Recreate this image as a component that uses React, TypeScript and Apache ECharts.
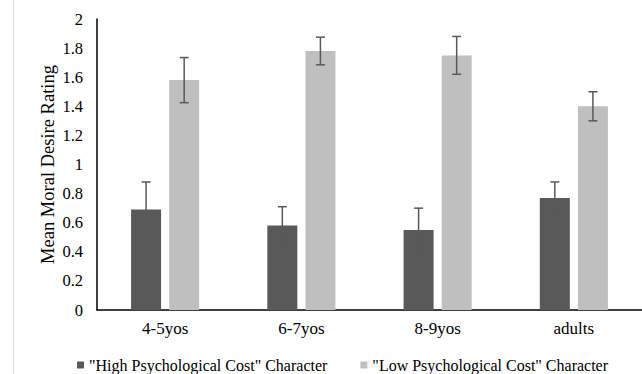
import React, { useEffect, useRef } from "react";
import * as echarts from "echarts";

const categories = ["4-5yos", "6-7yos", "8-9yos", "adults"];
const seriesNames = ['"High Psychological Cost" Character', '"Low Psychological Cost" Character'];
const highValues = [0.69, 0.58, 0.55, 0.77];
const highErrors = [0.19, 0.13, 0.15, 0.11];
const lowValues = [1.58, 1.78, 1.75, 1.40];
const lowErrors = [0.155, 0.095, 0.13, 0.10];
const yTicks = { min: 0, max: 2, interval: 0.2 };

const FONT = "Liberation Serif";
const BAR_W = 30;
const GAP_PCT = 27;

export default function App() {
  const ref = useRef<HTMLDivElement>(null);
  useEffect(() => {
    const chart = echarts.init(ref.current!, null, { renderer: "svg" });
    const offset = (BAR_W + (BAR_W * GAP_PCT) / 100) / 2;
    const errSeries = (vals: number[], errs: number[], dir: number, name: string) => ({
      type: "custom",
      name: name + "_err",
      z: 10,
      data: vals.map((v, i) => [i, v - errs[i], v + errs[i]]),
      renderItem: (params: any, api: any) => {
        const i = api.value(0);
        const lo = api.coord([i, api.value(1)]);
        const hi = api.coord([i, api.value(2)]);
        const x = lo[0] + dir * offset;
        const cap = 4.5;
        const style = { stroke: "#595959", lineWidth: 1.5 };
        return {
          type: "group",
          children: [
            { type: "line", shape: { x1: x, y1: lo[1], x2: x, y2: hi[1] }, style },
            { type: "line", shape: { x1: x - cap, y1: hi[1], x2: x + cap, y2: hi[1] }, style },
            { type: "line", shape: { x1: x - cap, y1: lo[1], x2: x + cap, y2: lo[1] }, style },
          ],
        };
      },
    });
    chart.setOption({
      animation: false,
      textStyle: { fontFamily: FONT },
      grid: { left: 97, right: 0, top: 19, bottom: 64 },
      legend: {
        data: [
          { name: seriesNames[0], icon: "rect" },
          { name: seriesNames[1], icon: "rect" },
        ],
        left: 77,
        top: 357,
        padding: 0,
        itemWidth: 7,
        itemHeight: 7,
        itemGap: 33,
        textStyle: { fontFamily: FONT, fontSize: 16, color: "#000" },
      },
      xAxis: {
        type: "category",
        data: categories,
        axisLine: { lineStyle: { color: "#000", width: 1.5 } },
        axisTick: { show: false },
        axisLabel: { fontFamily: FONT, fontSize: 17, color: "#000", margin: 10 },
      },
      yAxis: {
        type: "value",
        min: yTicks.min,
        max: yTicks.max,
        interval: yTicks.interval,
        name: "Mean Moral Desire Rating",
        nameLocation: "middle",
        nameGap: 40,
        nameMoveOverlap: false,
        nameTextStyle: { fontFamily: FONT, fontSize: 18.5, color: "#000" },
        axisLine: { show: true, lineStyle: { color: "#000", width: 1.5 } },
        axisTick: { show: false },
        splitLine: { show: false },
        axisLabel: { fontFamily: FONT, fontSize: 16.5, color: "#000", margin: 14 },
      },
      graphic: [
        {
          type: "line",
          shape: { x1: 13.5, y1: 0, x2: 13.5, y2: 374 },
          style: { stroke: "#d9d9d9", lineWidth: 1 },
        },
      ],
      series: [
        {
          type: "bar",
          name: seriesNames[0],
          data: highValues,
          barWidth: BAR_W,
          barGap: GAP_PCT + "%",
          itemStyle: { color: "#595959" },
        },
        {
          type: "bar",
          name: seriesNames[1],
          data: lowValues,
          barWidth: BAR_W,
          barGap: GAP_PCT + "%",
          itemStyle: { color: "#bfbfbf" },
        },
        errSeries(highValues, highErrors, -1, seriesNames[0]),
        errSeries(lowValues, lowErrors, 1, seriesNames[1]),
      ],
    });
    return () => chart.dispose();
  }, []);
  return (
    <div
      ref={ref}
      style={{ position: "fixed", left: 0, top: 0, width: 642, height: 374, background: "#fff" }}
    />
  );
}
